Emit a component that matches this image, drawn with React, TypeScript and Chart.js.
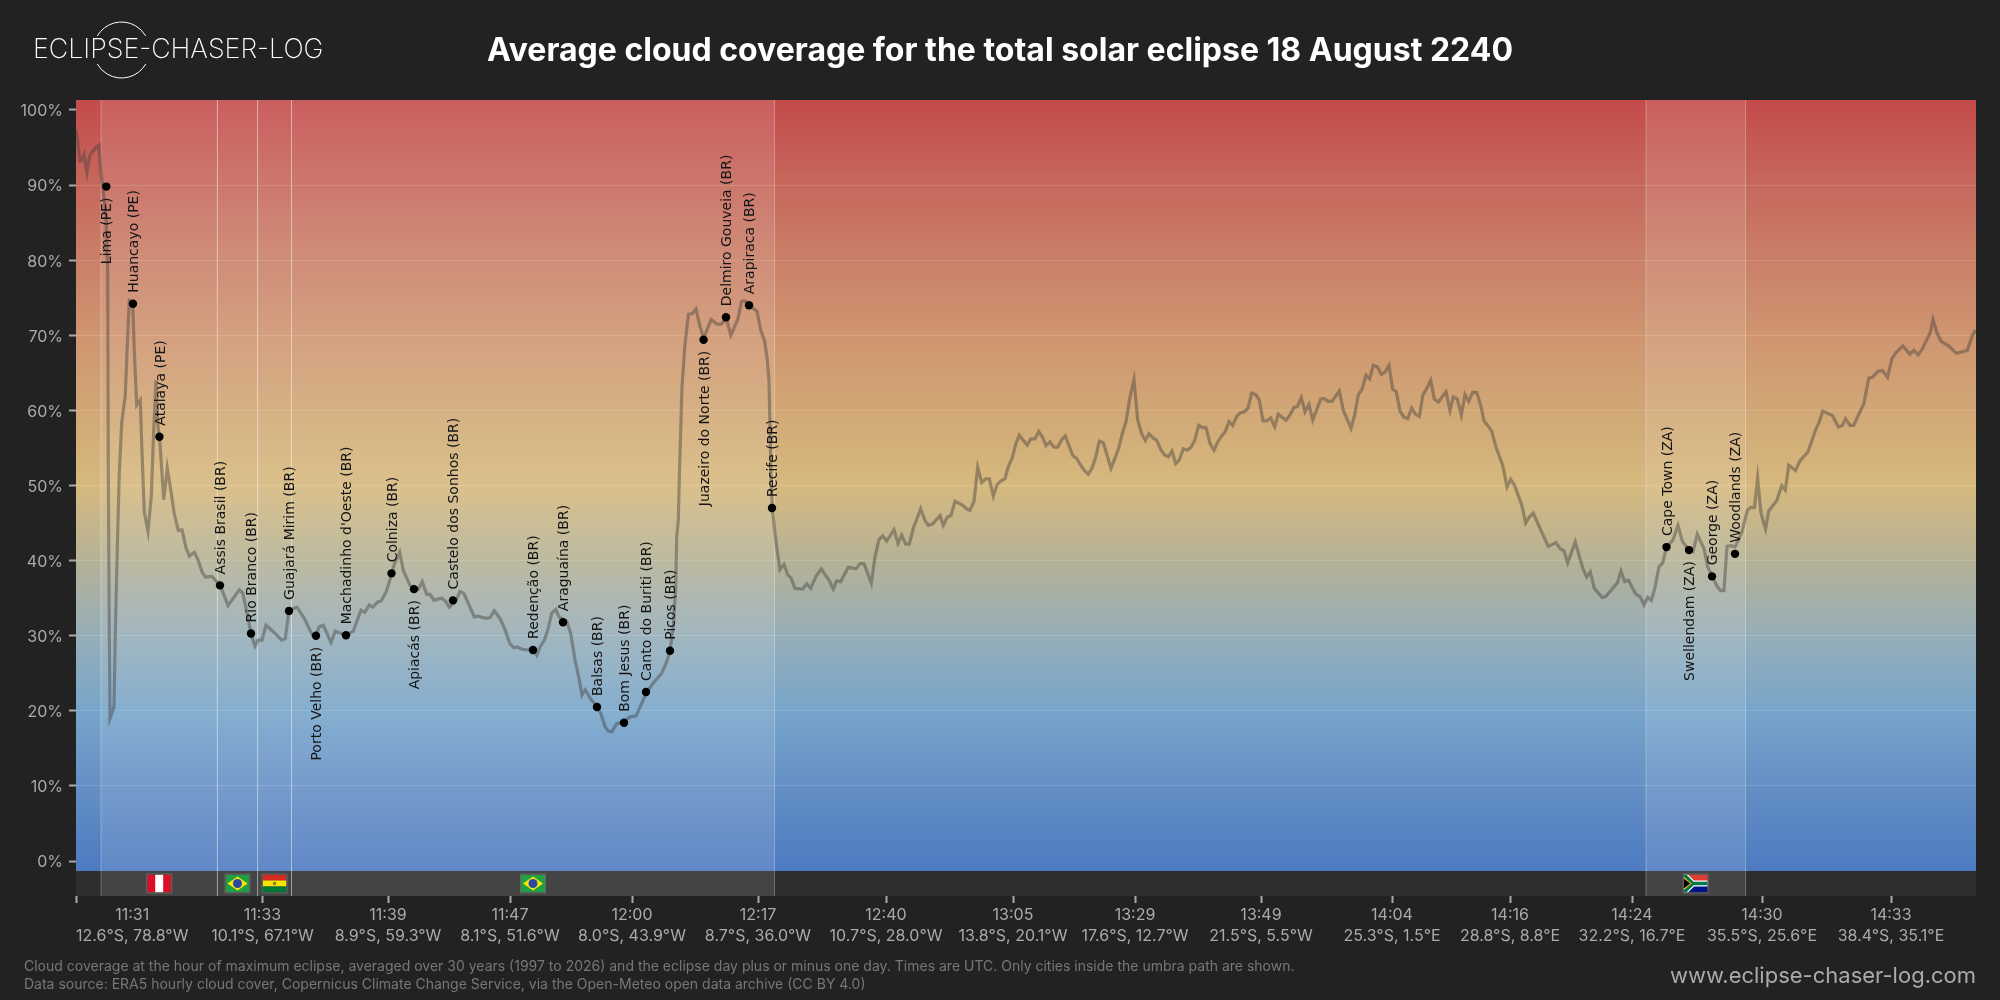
import React, { useEffect, useRef } from 'react';
import { Chart, registerables } from 'chart.js';

Chart.register(...registerables);

const FONT = 'Inter';

const trackPos = [
  0, 1.5, 4, 6, 8, 11, 13.5, 15, 20, 23, 25, 27, 30, 31.7, 32.3, 33.3, 34, 38, 39.3, 41.7, 43.3, 45.7, 49.3, 51, 53.3, 56.7, 58.3, 60.7, 64.3, 65.7, 68.3, 72, 75.3, 77.7, 80, 81.7, 84, 87.7, 91.3, 95, 98.3, 102.3, 106, 110, 113.3, 118.3, 122, 126, 129.3, 136, 140, 144.3, 152, 163.3, 166.7, 170, 175, 179, 182, 186, 190, 196.7, 205.7, 209.3, 213, 221, 228.3, 236.7, 239.3, 243.3, 247.3, 255, 259.3, 265, 270.3, 277.3, 285, 288.7, 293.3, 296.7, 301.7, 305, 310, 315, 318.3, 323.7, 327.3, 334, 342.3, 346.3, 350.7, 354, 358, 365.7, 370, 373.3, 380, 384, 388, 392.3, 398.3, 402.3, 410, 414, 418.3, 424, 429, 434, 438, 441.3, 445.7, 452.3, 457.3, 460.7, 464, 468.3, 472.3, 475.7, 479.7, 483, 490.7, 494.7, 499, 503.3, 506, 509.3, 514, 521.3, 524.7, 529, 532.3, 535.7, 540.7, 548, 554, 560, 565.7, 570.7, 577.3, 585.7, 590.7, 594, 597.3, 599.7, 600.7, 602.3, 603.5, 606, 608.8, 612.4, 616.4, 620, 624, 627.6, 635.2, 641, 645.4, 650.3, 654.8, 662, 665.5, 669, 673, 681, 684.7, 688.7, 691.3, 693, 694, 695, 696.3, 699, 701.3, 704, 708, 711.7, 715, 719, 726.7, 730.7, 734.7, 740, 745.3, 749.3, 753, 757.3, 760.7, 764.7, 769, 772.3, 780, 784, 788, 795.3, 799, 803, 806.7, 810.7, 818, 822, 825.7, 829.7, 833.3, 837.3, 844.7, 849, 852.3, 856.7, 864, 867.3, 871.3, 875, 879, 886.3, 890.7, 894, 898, 901.7, 905.7, 909.7, 913.3, 917.3, 921, 924.7, 929, 932.3, 936.3, 940, 943.3, 947.3, 951.3, 954.7, 959, 962.7, 966.7, 970, 974, 978, 981.7, 985.7, 989.3, 996.7, 1000.7, 1004.7, 1008.3, 1012.3, 1016, 1019.7, 1023.3, 1027.3, 1035, 1042.3, 1046.3, 1050, 1054, 1058, 1061.7, 1065.7, 1069.3, 1073, 1077.3, 1080.7, 1084.7, 1088.3, 1092.3, 1096, 1099.7, 1103.3, 1107.3, 1111.3, 1115, 1118.7, 1122.7, 1126.7, 1130, 1134, 1138, 1141.7, 1145.7, 1149.3, 1153, 1156.7, 1160.7, 1164.3, 1168.3, 1172, 1175.7, 1179.7, 1183.3, 1187, 1190.7, 1194.7, 1198.7, 1202.3, 1210, 1214, 1218, 1221.3, 1225.3, 1229, 1233, 1236.7, 1244.7, 1248, 1252.3, 1256, 1263.3, 1267.3, 1275, 1278.7, 1282.3, 1286, 1290, 1293.7, 1297.3, 1301.3, 1305.3, 1309, 1313, 1316.7, 1320.3, 1324, 1328, 1331.7, 1335.7, 1339.3, 1343.3, 1347, 1350.7, 1354.7, 1358.3, 1362.3, 1370, 1374, 1377.3, 1381.3, 1385.3, 1389, 1392.7, 1396.7, 1400.7, 1404.7, 1408, 1412.3, 1415.7, 1420, 1426.7, 1431, 1434.7, 1438.3, 1445.7, 1449.7, 1453.3, 1457.3, 1464.7, 1472.3, 1480, 1484, 1488, 1491.7, 1499.3, 1503, 1507.3, 1510.7, 1514.3, 1518.3, 1522.3, 1526, 1529.7, 1537.3, 1541.3, 1545, 1548.7, 1552.3, 1560, 1564, 1568, 1571.7, 1575.3, 1579, 1583, 1586.7, 1590.7, 1596.8, 1602, 1606.6, 1613.3, 1617, 1621.3, 1628, 1631.6, 1636, 1641.4, 1644.5, 1648, 1651, 1654.8, 1659, 1666, 1671.3, 1675, 1678.5, 1681.6, 1685, 1689.6, 1692.7, 1700.8, 1705.7, 1709.3, 1712.8, 1719.5, 1724, 1731.6, 1735, 1739.6, 1742.8, 1746.8, 1756.6, 1762.4, 1766.4, 1769.5, 1774, 1777.6, 1787.8, 1792.8, 1796.3, 1802, 1806.6, 1811.5, 1816, 1820, 1826.7, 1833.8, 1837.8, 1842.3, 1846.8, 1854.4, 1857, 1861, 1865, 1872.6, 1880.3, 1891.4, 1895.9, 1899.5,
];

const coverage = [
  97.4, 96, 93.2, 93.3, 94, 91.7, 93.8, 94.2, 95, 95.3, 91.5, 89.5, 86, 78.6, 51.8, 30.4, 19, 20.5, 30.4, 43.8, 51.8, 58.3, 62, 67.9, 74.6, 74.3, 67.9, 60.7, 61.4, 55.6, 46.5, 43.9, 48.6, 57.2, 64, 58.3, 55.6, 48.1, 52.3, 49.2, 46.2, 44, 44.1, 41.7, 40.6, 41.1, 40.1, 38.5, 37.8, 37.9, 37.3, 36.7, 34, 36.1, 35.7, 33.7, 30.3, 28.6, 29.4, 29.4, 31.4, 30.6, 29.4, 29.6, 33.4, 33.8, 32.3, 30, 29.9, 31.2, 31.4, 29.1, 30.6, 30.3, 30.1, 30.6, 33.4, 33.1, 34.1, 33.8, 34.5, 34.6, 35.8, 37.9, 39.5, 41.1, 38.7, 36.7, 36.2, 37.2, 35.5, 35.5, 34.7, 35, 34.5, 33.8, 34.7, 35.9, 35.6, 34.3, 32.5, 32.6, 32.3, 32.4, 33.3, 32.3, 30.8, 28.9, 28.4, 28.5, 28.2, 28.1, 28.1, 27.4, 28.5, 29.4, 31, 33, 33.5, 32.5, 31.9, 30.3, 26.8, 24.1, 22.1, 22.8, 21.7, 20.5, 19.7, 17.9, 17.3, 17.2, 18.3, 18.5, 19.2, 19.3, 21, 22.5, 23.7, 25, 26.5, 28, 31.2, 36.5, 43.2, 45.4, 52, 63.2, 68.5, 72.8, 72.9, 73.5, 71.2, 69.6, 72.1, 71.5, 71.5, 72.3, 70, 72.2, 74.5, 74.6, 74, 73.2, 70.7, 69.2, 66.7, 64, 57.8, 51.2, 47, 43.6, 41.2, 38.8, 39.5, 38.1, 37.7, 36.3, 36.2, 36.9, 36.3, 37.9, 38.9, 38.1, 37.4, 36.2, 37.3, 37.2, 38.3, 39.1, 38.9, 39.6, 39.6, 37, 40.5, 42.8, 43.3, 42.6, 44.1, 42.3, 43.4, 42.2, 42.2, 44.3, 46.9, 45.3, 44.7, 44.9, 46, 44.7, 45.8, 46, 47.9, 47.4, 46.9, 46.7, 47.9, 52.4, 50.4, 50.9, 50.9, 48.6, 50.1, 50.6, 50.9, 52.5, 53.7, 55.6, 56.7, 56, 55.4, 56.2, 56.2, 57.2, 56.4, 55.3, 55.8, 55.1, 55.1, 56.1, 56.6, 54, 53.6, 52.7, 52, 51.5, 52.3, 53.8, 55.9, 55.7, 52.3, 54.8, 56.9, 58.5, 61.8, 64.1, 58.7, 56.9, 56, 56.9, 56.3, 56, 54.8, 54.1, 53.8, 54.6, 52.9, 53.4, 54.9, 54.7, 55.1, 56, 58, 57.7, 57.7, 55.6, 54.7, 55.8, 56.6, 57.2, 58.5, 58, 59.2, 59.7, 59.8, 60.3, 62.3, 62.1, 61.4, 58.6, 58.6, 59, 57.8, 59.5, 58.7, 59.4, 60.4, 60.5, 61.7, 59.8, 60.8, 58.7, 61.5, 61.6, 61.2, 61.2, 62.6, 60, 57.6, 59.4, 62.1, 62.8, 64.7, 64.2, 66, 65.8, 64.8, 65.1, 66, 62.8, 62.5, 59.9, 59.1, 58.9, 60.3, 59.5, 59.2, 62.1, 62.9, 64, 61.5, 61.1, 62.5, 60, 61.8, 61.5, 59.4, 62.1, 61.2, 62.4, 62.4, 60.7, 58.6, 57.9, 57.2, 55.1, 52.7, 49.8, 50.8, 50.1, 47.4, 45, 45.8, 46.3, 44.1, 41.9, 42.4, 41.6, 41.3, 39.7, 42.5, 40.7, 38.8, 37.8, 38.5, 36.3, 35.7, 35.1, 35.2, 36.4, 37, 38.6, 37.2, 37.4, 35.5, 35.2, 34.1, 35.1, 34.7, 36.4, 39.2, 39.7, 41.9, 42.7, 44.7, 42.5, 41.4, 41.2, 43.5, 41.6, 39.2, 38, 36.5, 36, 36, 41.9, 42, 41.8, 43.8, 46.7, 47.1, 47.1, 51, 46.3, 44.2, 46.6, 48, 50, 49.4, 52.7, 52, 53.3, 54.4, 55.6, 57.4, 58.3, 59.9, 59.3, 57.8, 58, 58.9, 58, 58, 60.9, 64.3, 64.4, 65.2, 65.3, 64.4, 66.9, 67.7, 68.6, 67.5, 68, 67.4, 68.3, 70.4, 72.1, 70.3, 69.2, 68.6, 67.6, 68, 69.8, 70.7,
];

const cityNames = ['Lima (PE)', 'Huancayo (PE)', 'Atalaya (PE)', 'Assis Brasil (BR)', 'Rio Branco (BR)', 'Guajará Mirim (BR)', 'Porto Velho (BR)', "Machadinho d'Oeste (BR)", 'Colniza (BR)', 'Apiacás (BR)', 'Castelo dos Sonhos (BR)', 'Redenção (BR)', 'Araguaína (BR)', 'Balsas (BR)', 'Bom Jesus (BR)', 'Canto do Buriti (BR)', 'Picos (BR)', 'Juazeiro do Norte (BR)', 'Delmiro Gouveia (BR)', 'Arapiraca (BR)', 'Recife (BR)', 'Cape Town (ZA)', 'Swellendam (ZA)', 'George (ZA)', 'Woodlands (ZA)'];
const cityPos = [30.3, 57, 83.4, 144, 175, 213, 240, 270, 315.5, 338, 377, 457, 487, 521, 548, 570, 594, 627.6, 650, 673, 696, 1590.5, 1613, 1636, 1659];
const cityCover = [89.8, 74.2, 56.5, 36.7, 30.3, 33.3, 30, 30.05, 38.3, 36.2, 34.7, 28.1, 31.8, 20.5, 18.4, 22.5, 28, 69.4, 72.4, 74, 47, 41.8, 41.4, 37.9, 40.9];
const labelsBelow = ['Lima (PE)', 'Porto Velho (BR)', 'Apiacás (BR)', 'Juazeiro do Norte (BR)', 'Swellendam (ZA)'];

const tickPos = [0, 186.5, 312, 434, 556, 682, 810, 937, 1059, 1185, 1316, 1434, 1556, 1686, 1815];
const tickTimes = ['11:31', '11:33', '11:39', '11:47', '12:00', '12:17', '12:40', '13:05', '13:29', '13:49', '14:04', '14:16', '14:24', '14:30', '14:33'];
const tickCoords = ['12.6°S, 78.8°W', '10.1°S, 67.1°W', '8.9°S, 59.3°W', '8.1°S, 51.6°W', '8.0°S, 43.9°W', '8.7°S, 36.0°W', '10.7°S, 28.0°W', '13.8°S, 20.1°W', '17.6°S, 12.7°W', '21.5°S, 5.5°W', '25.3°S, 1.5°E', '28.8°S, 8.8°E', '32.2°S, 16.7°E', '35.5°S, 25.6°E', '38.4°S, 35.1°E'];

const countries = ['PE', 'BR', 'BO', 'BR', 'ZA'];
const countryFrom = [25, 141.4, 181.6, 215.5, 1570];
const countryTo = [141.4, 181.6, 215.5, 698.5, 1669.5];

const gradientValues = [101.33, 90, 80, 70, 60, 50, 40, 30, 20, 10, -1.33];
const gradientColors = ['#c44b4b', '#c6685c', '#ca8068', '#cf9570', '#d1a776', '#d6b97e', '#b5b296', '#96aeb8', '#77a5ca', '#6490c5', '#4d7ac1'];

const notes = [
  'Cloud coverage at the hour of maximum eclipse, averaged over 30 years (1997 to 2026) and the eclipse day plus or minus one day. Times are UTC. Only cities inside the umbra path are shown.',
  'Data source: ERA5 hourly cloud cover, Copernicus Climate Change Service, via the Open-Meteo open data archive (CC BY 4.0)',
];

const drawFlag = (ctx: CanvasRenderingContext2D, code: string, cx: number, cy: number) => {
  const w = 24, h = 18, x = cx - w / 2, y = cy - h / 2;
  ctx.save();
  ctx.beginPath();
  ctx.rect(x, y, w, h);
  ctx.clip();
  if (code === 'PE') {
    ctx.fillStyle = '#d91023';
    ctx.fillRect(x, y, w, h);
    ctx.fillStyle = '#fff';
    ctx.fillRect(x + w / 3, y, w / 3, h);
  } else if (code === 'BR') {
    ctx.fillStyle = '#229e45';
    ctx.fillRect(x, y, w, h);
    ctx.fillStyle = '#f8e509';
    ctx.beginPath();
    ctx.moveTo(x + 2, cy);
    ctx.lineTo(cx, y + 2);
    ctx.lineTo(x + w - 2, cy);
    ctx.lineTo(cx, y + h - 2);
    ctx.closePath();
    ctx.fill();
    ctx.fillStyle = '#2b49a3';
    ctx.beginPath();
    ctx.arc(cx, cy, 4.5, 0, Math.PI * 2);
    ctx.fill();
  } else if (code === 'BO') {
    ctx.fillStyle = '#d52b1e';
    ctx.fillRect(x, y, w, h / 3);
    ctx.fillStyle = '#f9e300';
    ctx.fillRect(x, y + h / 3, w, h / 3);
    ctx.fillStyle = '#007934';
    ctx.fillRect(x, y + (2 * h) / 3, w, h / 3);
    ctx.fillStyle = '#8a7a3a';
    ctx.fillRect(cx - 1.5, cy - 1.5, 3, 3);
  } else {
    ctx.fillStyle = '#e03c31';
    ctx.fillRect(x, y, w, h / 2);
    ctx.fillStyle = '#001489';
    ctx.fillRect(x, cy, w, h / 2);
    ctx.strokeStyle = '#fff';
    ctx.lineWidth = 6;
    ctx.beginPath();
    ctx.moveTo(x, y);
    ctx.lineTo(x + 9, cy);
    ctx.lineTo(x, y + h);
    ctx.moveTo(x + 9, cy);
    ctx.lineTo(x + w, cy);
    ctx.stroke();
    ctx.strokeStyle = '#007749';
    ctx.lineWidth = 3.6;
    ctx.stroke();
    ctx.fillStyle = '#ffb81c';
    ctx.beginPath();
    ctx.moveTo(x, y + 2.5);
    ctx.lineTo(x + 8, cy);
    ctx.lineTo(x, y + h - 2.5);
    ctx.fill();
    ctx.fillStyle = '#000';
    ctx.beginPath();
    ctx.moveTo(x, y + 4);
    ctx.lineTo(x + 6.5, cy);
    ctx.lineTo(x, y + h - 4);
    ctx.fill();
  }
  ctx.restore();
  ctx.strokeStyle = '#666';
  ctx.lineWidth = 1;
  ctx.strokeRect(x - 0.5, y - 0.5, w + 1, h + 1);
};

// gradient, strip, country bands and flags go under the grid
const backdropPlugin = {
  id: 'backdrop',
  beforeDraw(chart: any) {
    const { ctx, chartArea, scales } = chart;
    const { left, right, top, bottom } = chartArea;
    const stripTop = scales.y.getPixelForValue(-1.33);
    const grad = ctx.createLinearGradient(0, top, 0, stripTop);
    gradientValues.forEach((v, i) => {
      grad.addColorStop((scales.y.getPixelForValue(v) - top) / (stripTop - top), gradientColors[i]);
    });
    ctx.save();
    ctx.fillStyle = grad;
    ctx.fillRect(left, top, right - left, stripTop - top);
    ctx.fillStyle = '#2e2e2e';
    ctx.fillRect(left, stripTop, right - left, bottom - stripTop);
    countries.forEach((code, i) => {
      const a = scales.x.getPixelForValue(countryFrom[i]);
      const b = scales.x.getPixelForValue(countryTo[i]);
      ctx.fillStyle = 'rgba(255,255,255,0.11)';
      ctx.fillRect(a, top, b - a, bottom - top);
      ctx.fillStyle = 'rgba(255,255,255,0.28)';
      ctx.fillRect(a - 0.5, top, 1, bottom - top);
      ctx.fillRect(b - 0.5, top, 1, bottom - top);
      drawFlag(ctx, code, (a + b) / 2, (stripTop + bottom) / 2);
    });
    ctx.restore();
  },
};

const cityLabelPlugin = {
  id: 'cityLabels',
  afterDatasetsDraw(chart: any) {
    const { ctx } = chart;
    const pts = chart.getDatasetMeta(1).data;
    ctx.save();
    ctx.fillStyle = '#151515';
    ctx.font = '14px "DejaVu Sans"';
    ctx.textBaseline = 'middle';
    cityNames.forEach((name, i) => {
      const below = labelsBelow.includes(name);
      ctx.save();
      ctx.translate(pts[i].x, pts[i].y);
      ctx.rotate(-Math.PI / 2);
      ctx.textAlign = below ? 'right' : 'left';
      ctx.fillText(name, below ? -11 : 11, 1.5);
      ctx.restore();
    });
    ctx.restore();
  },
};

// logo, notes, url and the first x label, which hangs right of its tick
const pageTextPlugin = {
  id: 'pageText',
  afterDraw(chart: any) {
    const { ctx, scales } = chart;
    ctx.save();
    const x0 = scales.x.getPixelForValue(tickPos[0]);
    ctx.fillStyle = '#aaa';
    ctx.font = `16px ${FONT}`;
    ctx.textAlign = 'center';
    ctx.textBaseline = 'middle';
    const firstW = ctx.measureText(tickCoords[0]).width;
    ctx.fillText(tickTimes[0], x0 + firstW / 2, scales.x.top + 19);
    ctx.fillText(tickCoords[0], x0 + firstW / 2, scales.x.top + 40);

    ctx.textAlign = 'left';
    ctx.fillStyle = '#777';
    ctx.font = `14px ${FONT}`;
    ctx.fillText(notes[0], 24, 967);
    ctx.fillText(notes[1], 24, 985);

    ctx.textAlign = 'right';
    ctx.fillStyle = '#aaa';
    ctx.font = `22px ${FONT}`;
    ctx.fillText('www.eclipse-chaser-log.com', 1976, 976);

    ctx.textAlign = 'left';
    ctx.fillStyle = '#fff';
    ctx.font = `200 26.8px ${FONT}`;
    ctx.fillText('ECLIPSE-CHASER-LOG', 33, 50);
    ctx.strokeStyle = '#fff';
    ctx.lineWidth = 1;
    ctx.beginPath();
    ctx.arc(121.5, 50, 28, (7 * Math.PI) / 6, (11 * Math.PI) / 6);
    ctx.stroke();
    ctx.beginPath();
    ctx.arc(121.5, 50, 28, Math.PI / 6, (5 * Math.PI) / 6);
    ctx.stroke();
    ctx.restore();
  },
};

export default function App() {
  const canvasRef = useRef<HTMLCanvasElement | null>(null);

  useEffect(() => {
    document.body.style.margin = '0';
    document.body.style.background = '#222222';
    if (!canvasRef.current) return;
    const chart = new Chart(canvasRef.current, {
      type: 'line',
      data: {
        datasets: [
          {
            data: trackPos.map((x, i) => ({ x, y: coverage[i] })),
            borderColor: 'rgba(70,66,62,0.45)',
            borderWidth: 3.2,
            pointRadius: 0,
            tension: 0,
            order: 2,
          },
          {
            data: cityPos.map((x, i) => ({ x, y: cityCover[i] })),
            showLine: false,
            pointRadius: 4.2,
            pointBackgroundColor: '#000',
            pointBorderWidth: 0,
            order: 1,
          },
        ],
      },
      options: {
        animation: false,
        responsive: false,
        devicePixelRatio: 1,
        plugins: {
          legend: { display: false },
          tooltip: { enabled: false },
          title: {
            display: true,
            text: 'Average cloud coverage for the total solar eclipse 18 August 2240',
            color: '#fff',
            font: { family: FONT, size: 32, weight: '700', lineHeight: 1.2 },
            padding: { top: 32.5, bottom: 29.1 },
          },
        },
        scales: {
          x: {
            type: 'linear',
            min: 0,
            max: 1900,
            afterFit: (s: any) => { s.height = 104; },
            afterBuildTicks: (s: any) => { s.ticks = tickPos.map((value) => ({ value })); },
            border: { display: false },
            grid: { drawOnChartArea: false, tickLength: 7, tickColor: '#aaa', tickWidth: 2 },
            ticks: {
              autoSkip: false,
              maxRotation: 0,
              padding: 2,
              color: '#aaa',
              font: { family: FONT, size: 16, lineHeight: 1.3 },
              callback: (_v: any, i: number) => (i === 0 ? '' : [tickTimes[i], tickCoords[i]]),
            },
          },
          y: {
            min: -4.66,
            max: 101.33,
            afterFit: (s: any) => { s.width = 76; },
            border: { display: false },
            grid: {
              tickLength: 7,
              tickColor: '#aaa',
              tickWidth: 2,
              color: (c: any) => (c.tick.value === 0 || c.tick.value === 100 ? 'transparent' : 'rgba(255,255,255,0.13)'),
            },
            ticks: {
              stepSize: 10,
              includeBounds: false,
              padding: 6,
              labelOffset: 1.5,
              color: '#aaa',
              font: { family: FONT, size: 16 },
              callback: (v: any) => `${v}%`,
            },
          },
          // empty axis, only keeps the right margin so the title stays centred on the page
          yRight: {
            position: 'right',
            afterFit: (s: any) => { s.width = 24; },
            border: { display: false },
            grid: { display: false },
            ticks: { display: false },
          },
        },
      },
      plugins: [backdropPlugin, cityLabelPlugin, pageTextPlugin],
    } as any);
    return () => chart.destroy();
  }, []);

  return (
    <div style={{ width: 2000, height: 1000, background: '#222222' }}>
      <canvas ref={canvasRef} width={2000} height={1000} style={{ display: 'block' }} />
    </div>
  );
}
